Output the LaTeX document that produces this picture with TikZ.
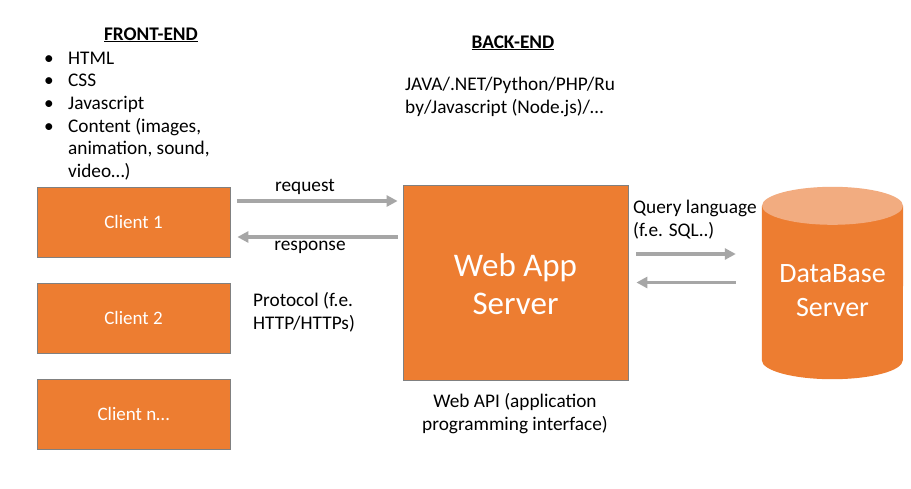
\documentclass[tikz,border=0pt]{standalone}
\usepackage{fontspec}
\setmainfont{Carlito}
\usetikzlibrary{positioning,arrows.meta,shapes.geometric}
\definecolor{boxorange}{RGB}{237,125,49}
\definecolor{toporange}{RGB}{242,172,128}
\definecolor{arrowgray}{RGB}{166,166,166}
\definecolor{edgegray}{RGB}{128,128,128}
\tikzset{
  tier/.style={draw=edgegray, line width=0.8pt, fill=boxorange, text=white,
    inner sep=0pt, font=\fontsize{19}{22}\selectfont},
  flow/.style={draw=arrowgray, line width=3.5pt, -{Triangle[length=11pt,width=11pt]}},
  txt/.style={inner sep=0pt, font=\fontsize{19.3}{22.7}\selectfont}
}

\begin{document}
\begin{tikzpicture}[x=1pt,y=-1pt]
\useasboundingbox[fill=white] (0,0) rectangle (911,488);
% headings
\node[txt, anchor=base] (fronthead) at (151,40) {\textbf{\underline{FRONT-END}}};
\node[txt, anchor=base] (backhead) at (513,48) {\textbf{\underline{BACK-END}}};
% front-end list
\node[txt, anchor=base west] (frontlist) at (44,64) {%
  \begin{tabular}[t]{@{}p{24pt}@{}l@{}}
  \textbullet & HTML\\
  \textbullet & CSS\\
  \textbullet & Javascript\\
  \textbullet & Content (images,\\
              & animation, sound,\\
              & video…)
  \end{tabular}};
% back-end languages
\node[txt, anchor=base west, align=left] (langs) at (405,113)
  {JAVA/.NET/Python/PHP/Ru\\by/Javascript (Node.js)/…};
% clients
\node[tier, minimum width=193pt, minimum height=70pt] (client1) at (133.5,222) {Client 1};
\node[tier, minimum width=193pt, minimum height=70pt] (client2) at (133.5,318) {Client 2};
\node[tier, minimum width=193pt, minimum height=70pt] (clientn) at (133.5,414) {Client n…};
% web app server
\node[tier, minimum width=225pt, minimum height=195pt] (server) at (515.5,282.5) {};
\node[align=center, text=white, inner sep=0pt,
  font=\fontsize{33}{38}\selectfont] (srvlbl) at ([yshift=-2pt]server.center) {Web App\\Server};
% database (cylinder drawn round an empty node)
\node[minimum width=141pt, minimum height=192pt, inner sep=0pt] (db) at (832.5,283) {};
\fill[boxorange] ([yshift=-19pt]db.north west) -- ([yshift=19pt]db.south west)
  arc[start angle=180, end angle=360, x radius=70.5pt, y radius=19pt]
  -- ([yshift=-19pt]db.north east) -- cycle;
\fill[toporange] ([yshift=-19pt]db.north) ellipse[x radius=70.5pt, y radius=19pt];
\node[align=center, text=white, inner sep=0pt,
  font=\fontsize{28}{34}\selectfont] (dblbl) at ([yshift=-8pt]db.center) {DataBase\\Server};
% connectors
\draw[flow, shorten <=7pt, shorten >=5pt]
  ([yshift=21pt]client1.east) -- ([yshift=21pt]client1.east -| server.west);
\draw[flow, shorten <=5pt, shorten >=7pt]
  ([yshift=-15pt]client1.east -| server.west) -- ([yshift=-15pt]client1.east);
\draw[flow, shorten <=8pt, shorten >=26pt]
  ([yshift=28.5pt]server.east) -- ([yshift=28.5pt]server.east -| db.west);
\draw[flow, shorten <=26pt, shorten >=8pt]
  ([yshift=0pt]server.east -| db.west) -- ([yshift=0pt]server.east);
% labels
\node[txt, anchor=base] (reqlbl) at (305,191) {request};
\node[txt, anchor=base] (reslbl) at (310,250) {response};
\node[txt, anchor=base west, align=left] (protolbl) at (253,329)
  {Protocol (f.e.\\HTTP/HTTPs)};
\node[txt, anchor=base west, align=left] (querylbl) at (633,236)
  {Query language\\(f.e. SQL..)};
\node[txt, anchor=base, align=center] (apilbl) at (515,430)
  {Web API (application\\programming interface)};
\end{tikzpicture}
\end{document}
